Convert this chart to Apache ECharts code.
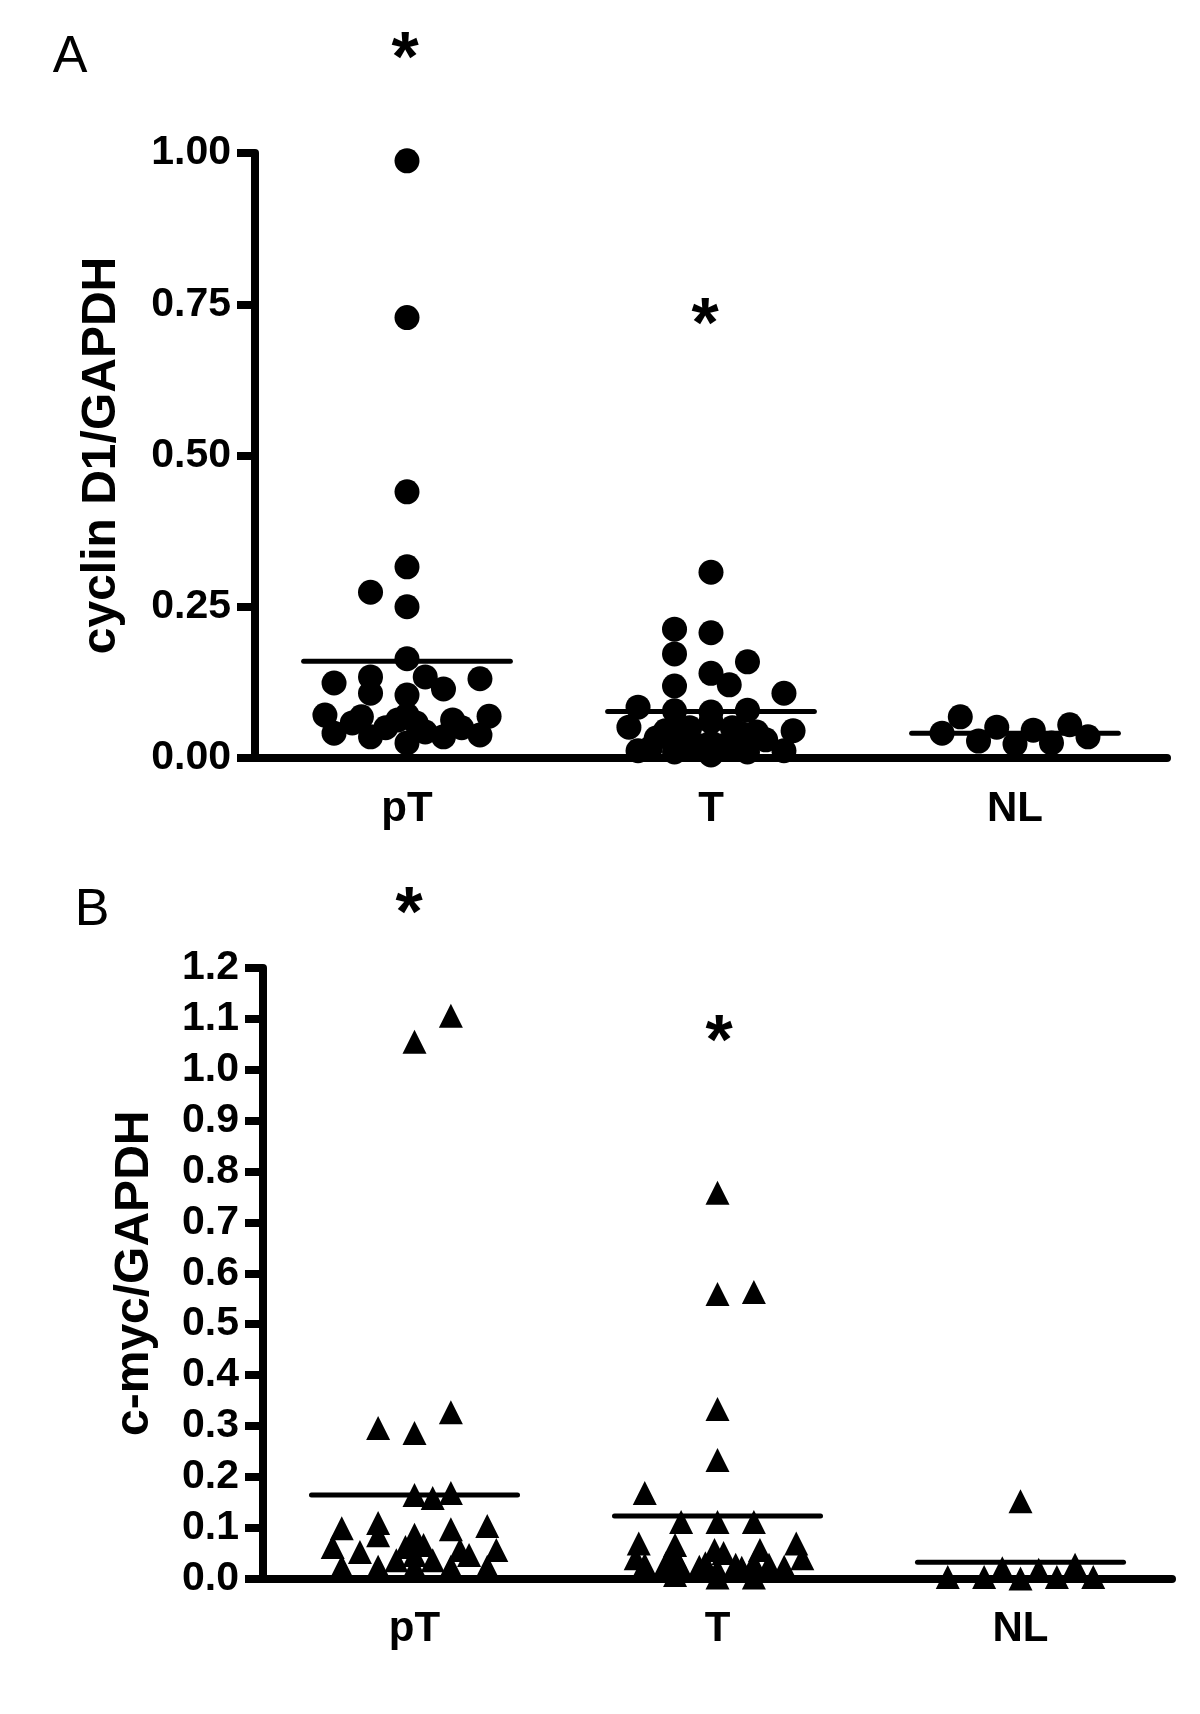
<!DOCTYPE html>
<html>
<head>
<meta charset="utf-8">
<script src="https://cdn.jsdelivr.net/npm/echarts@6/dist/echarts.min.js"></script>
<style>
html, body { margin: 0; padding: 0; background: #fff; }
#chart { width: 1200px; height: 1714px; }
</style>
</head>
<body>
<div id="chart"></div>
<script>
const categories = ['pT', 'T', 'NL'];

// A: cyclin D1/GAPDH (values and horizontal jitter in category units)
const cyclinPT = [0.987, 0.728, 0.440, 0.316, 0.274, 0.250, 0.164,
  0.124, 0.134, 0.107, 0.134, 0.114, 0.131, 0.104,
  0.071, 0.069, 0.041, 0.058, 0.068, 0.035, 0.050, 0.063, 0.071, 0.058, 0.025, 0.043, 0.035, 0.063, 0.050, 0.038];
const cyclinPTJitter = [0, 0, 0, 0, -0.12, 0, 0,
  -0.24, -0.12, -0.12, 0.06, 0.12, 0.24, 0,
  -0.27, 0.27, -0.24, -0.18, -0.15, -0.12, -0.07, -0.03, 0, 0.03, 0, 0.06, 0.12, 0.15, 0.18, 0.24];
const cyclinT = [0.307, 0.213, 0.207, 0.172, 0.159, 0.140, 0.121, 0.119, 0.107,
  0.084, 0.078, 0.076, 0.079, 0.051, 0.045, 0.045, 0.033, 0.012, 0.010,
  0.060, 0.050, 0.050, 0.040, 0.040, 0.043, 0.030, 0.012, 0.010,
  0.016, 0.016, 0.016, 0.020, 0.020, 0.005, 0.025];
const cyclinTJitter = [0, -0.12, 0, -0.12, 0.12, 0, 0.06, -0.12, 0.24,
  -0.24, -0.12, 0, 0.12, -0.27, 0.27, -0.15, -0.18, -0.24, -0.12,
  0, -0.07, 0.07, -0.10, 0.10, 0.15, 0.18, 0.24, 0.12,
  -0.20, -0.09, 0.09, -0.03, 0.03, 0, 0];
const cyclinNL = [0.041, 0.068, 0.028, 0.051, 0.023, 0.046, 0.025, 0.055, 0.035];
const cyclinNLJitter = [-0.24, -0.18, -0.12, -0.06, 0, 0.06, 0.12, 0.18, 0.24];
const cyclinMeans = [0.160, 0.077, 0.041];

// B: c-myc/GAPDH
const mycPT = [1.055, 1.106, 0.296, 0.286, 0.327, 0.164, 0.158, 0.168,
  0.099, 0.109, 0.086, 0.097, 0.103, 0.085,
  0.062, 0.052, 0.036, 0.062, 0.066, 0.036, 0.056, 0.046, 0.056,
  0.023, 0.023, 0.023, 0.023, 0.023, 0.046, 0.070];
const mycPTJitter = [0, 0.12, -0.12, 0, 0.12, 0, 0.06, 0.12,
  -0.24, -0.12, 0, 0.12, 0.24, -0.12,
  -0.27, -0.18, -0.06, -0.03, 0.03, 0.06, 0.15, 0.18, 0.27,
  -0.24, -0.12, 0, 0.12, 0.24, 0, 0];
const mycT = [0.758, 0.559, 0.563, 0.333, 0.233, 0.168, 0.111, 0.111, 0.111,
  0.069, 0.066, 0.069, 0.056, 0.040, 0.027, 0.030, 0.043, 0.021,
  0.056, 0.050, 0.030, 0.027, 0.017, 0.002,
  0.030, 0.027, 0.023, 0.040, 0.007, 0.002, 0.023, 0.021];
const mycTJitter = [0, 0, 0.12, 0, 0, -0.24, -0.12, 0, 0.12,
  -0.26, -0.14, 0.26, 0.14, -0.27, -0.24, -0.17, -0.14, -0.12,
  -0.01, 0.02, -0.04, 0.06, 0, 0,
  0.12, 0.17, 0.22, 0.28, -0.14, 0.12, -0.06, 0.08];
const mycNL = [0.152, 0.003, 0.003, 0.020, 0.000, 0.017, 0.003, 0.027, 0.003];
const mycNLJitter = [0, -0.24, -0.12, -0.06, 0, 0.06, 0.12, 0.18, 0.24];
const mycMeans = [0.164, 0.123, 0.032];

const FONT = '"Liberation Sans", Arial, sans-serif';
const MEAN_HALF = 0.34;

function toPoints(values, jitter, group) {
  return values.map((v, i) => [group + 0.5 + jitter[i], v]);
}

function scatter(xIdx, yIdx, data, symbol, size) {
  return {
    type: 'scatter',
    xAxisIndex: xIdx,
    yAxisIndex: yIdx,
    data: data,
    symbol: symbol,
    symbolSize: size,
    clip: false,
    itemStyle: { color: '#000', opacity: 1 },
    z: 5
  };
}

function meanLines(xIdx, yIdx, means) {
  return means.map((m, g) => ({
    type: 'line',
    xAxisIndex: xIdx,
    yAxisIndex: yIdx,
    data: [[g + 0.5 - MEAN_HALF, m], [g + 0.5 + MEAN_HALF, m]],
    symbol: 'none',
    lineStyle: { color: '#000', width: 5, cap: 'round' },
    z: 3
  }));
}

function catAxis(gridIndex) {
  return {
    gridIndex: gridIndex,
    type: 'category',
    data: categories,
    boundaryGap: true,
    axisLine: { lineStyle: { color: '#000', width: 8, cap: 'round' } },
    axisTick: { alignWithLabel: true, length: 20, lineStyle: { color: '#000', width: 8 } },
    axisLabel: { margin: 30, color: '#000', fontSize: 42, fontWeight: 'bold', fontFamily: FONT },
    splitLine: { show: false }
  };
}

function valueAxis(gridIndex, max, interval, digits, name, gap) {
  return {
    gridIndex: gridIndex,
    type: 'value',
    min: 0,
    max: max,
    interval: interval,
    name: name,
    nameLocation: 'middle',
    nameGap: gap,
    nameTextStyle: { color: '#000', fontSize: 48, fontWeight: 'bold', fontFamily: FONT },
    axisLine: { show: true, lineStyle: { color: '#000', width: 8 } },
    axisTick: { show: true, length: 18, lineStyle: { color: '#000', width: 8 } },
    axisLabel: {
      margin: 24, color: '#000', fontSize: 41, fontWeight: 'bold', fontFamily: FONT,
      formatter: v => v.toFixed(digits)
    },
    splitLine: { show: false }
  };
}

function label(text, x, y, size, weight) {
  return {
    type: 'text',
    x: x,
    y: y,
    style: {
      text: text, fill: '#000', fontSize: size, fontWeight: weight, fontFamily: FONT,
      textAlign: 'center', textVerticalAlign: 'middle'
    }
  };
}

const chart = echarts.init(document.getElementById('chart'));

chart.setOption({
  backgroundColor: '#fff',
  animation: false,
  grid: [
    { left: 255, right: 33, top: 153, bottom: 956 },
    { left: 263, right: 28, top: 968, bottom: 135.5 }
  ],
  xAxis: [
    catAxis(0),
    { gridIndex: 0, type: 'value', min: 0, max: 3, show: false },
    catAxis(1),
    { gridIndex: 1, type: 'value', min: 0, max: 3, show: false }
  ],
  yAxis: [
    valueAxis(0, 1, 0.25, 2, 'cyclin D1/GAPDH', 129),
    valueAxis(1, 1.2, 0.1, 1, 'c-myc/GAPDH', 104)
  ],
  graphic: [
    label('A', 70, 58, 52, 'normal'),
    label('B', 92, 911, 52, 'normal'),
    label('*', 405, 62, 70, 'bold'),
    label('*', 705, 328, 70, 'bold'),
    label('*', 409, 917, 70, 'bold'),
    label('*', 719, 1045, 70, 'bold')
  ],
  series: [
    ...meanLines(1, 0, cyclinMeans),
    scatter(1, 0, toPoints(cyclinPT, cyclinPTJitter, 0), 'circle', 25),
    scatter(1, 0, toPoints(cyclinT, cyclinTJitter, 1), 'circle', 25),
    scatter(1, 0, toPoints(cyclinNL, cyclinNLJitter, 2), 'circle', 25),
    ...meanLines(3, 1, mycMeans),
    scatter(3, 1, toPoints(mycPT, mycPTJitter, 0), 'triangle', 24),
    scatter(3, 1, toPoints(mycT, mycTJitter, 1), 'triangle', 24),
    scatter(3, 1, toPoints(mycNL, mycNLJitter, 2), 'triangle', 24)
  ]
});
</script>
</body>
</html>
